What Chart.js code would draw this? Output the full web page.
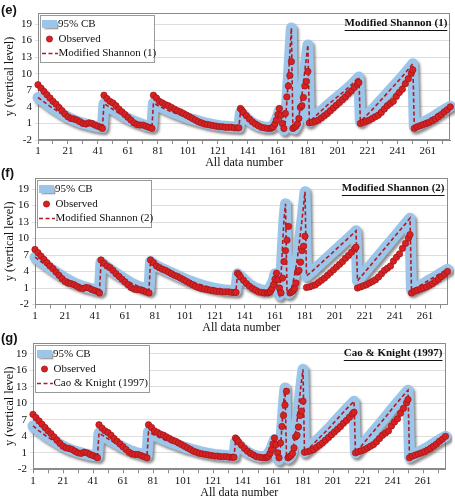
<!DOCTYPE html>
<html><head><meta charset="utf-8">
<script src="https://cdn.jsdelivr.net/npm/chart.js@4.4.1/dist/chart.umd.min.js"></script>
<style>
html,body{margin:0;padding:0;background:#fff;overflow:hidden;}
#wrap{position:relative;width:455px;height:500px;}
.pane{position:absolute;left:0;width:455px;height:172px;}
</style></head><body>
<div id="wrap">
<div class="pane" style="top:0px"><canvas id="cE"></canvas></div>
<div class="pane" style="top:165px"><canvas id="cF"></canvas></div>
<div class="pane" style="top:330px"><canvas id="cG"></canvas></div>
</div>
<script>
// ---------- DATA ----------
const xTickValues = [1,11,21,31,41,51,61,71,81,91,101,111,121,131,141,151,161,171,181,191,201,211,221,231,241,251,261,271];
const xTickLabels = [1,21,41,61,81,101,121,141,161,181,201,221,241,261];
const yTickValues = [-2,1,4,7,10,13,16,19];
const panelLabels = ['(e)','(f)','(g)'];
const modelNames = ['Modified Shannon (1)','Modified Shannon (2)','Cao & Knight (1997)'];
const seriesNames = ['95% CB','Observed'];

// Observed (all data number, value)
const obsX = [
  1,3,5,7,9,11,13,15,17,19,21,23,25,27,29,31,33,35,37,39,41,43,44,
  45,47,49,51,53,55,57,59,61,63,65,67,69,71,73,75,77,
  78,80,82,84,86,88,90,92,94,96,98,100,102,104,106,108,110,112,114,116,118,120,122,124,126,128,130,132,134,135,
  136,137,138,140,142,144,146,148,150,152,154,156,157,158,159,160,161,162,163,164,165,166,167,168,169,170,171,172,173,174,175,176,177,178,179,180,181,182,
  184,186,188,190,192,194,196,198,200,202,204,206,208,210,212,214,215,
  216,218,220,222,224,226,228,230,232,234,236,238,240,242,244,246,248,250,251,
  252,254,256,258,260,262,264,266,268,270,272,274,276
];
const obsY = [
  8.0,7.4,6.8,6.2,5.6,5.0,4.5,3.9,3.3,2.7,2.2,1.9,1.8,1.6,1.3,1.0,0.9,1.1,1.0,0.7,0.5,0.3,0.1,
  6.1,5.5,5.0,4.7,4.2,3.6,3.1,2.6,2.1,1.6,1.1,0.8,0.7,0.7,0.5,0.3,0.1,
  6.1,5.6,5.0,4.7,4.4,4.2,3.9,3.6,3.3,3.1,2.8,2.5,2.2,1.9,1.6,1.3,1.1,0.9,0.8,0.7,0.6,0.5,0.4,0.4,0.3,0.3,0.3,0.2,0.2,0.2,
  3.7,3.4,3.0,2.4,1.8,1.3,0.9,0.6,0.3,0.2,0.1,0.1,0.2,0.4,0.9,1.6,2.6,3.7,2.5,1.0,0.1,2.8,5.8,7.8,9.7,12.2,0.1,0.3,0.5,0.9,1.9,3.9,4.2,5.7,7.8,8.6,10.4,1.1,
  1.2,1.4,1.6,2.0,2.4,2.8,3.3,3.8,4.3,4.8,5.3,5.8,6.4,6.9,7.5,8.1,8.4,
  1.0,1.2,1.4,1.6,1.9,2.2,2.5,3.0,3.6,4.2,4.6,5.0,5.9,6.6,7.2,8.2,9.1,10.1,10.7,
  0.1,0.4,0.6,0.8,1.0,1.2,1.5,1.8,2.2,2.6,3.1,3.5,4.0
];

// Model curves (centre of the 95% CB band) at these data numbers
const modelX = [
  1,5,9,13,17,21,25,29,33,37,41,44,
  45,49,53,57,61,65,69,73,77,
  78,82,86,90,94,98,102,106,110,114,118,122,126,130,135,
  136,140,144,148,152,156,158,160,161,162,163,164,165,166,167,168,169,170,171,172,173,174,175,176,177,178,179,180,181,
  182,186,190,194,198,202,206,210,214,215,
  216,220,224,228,232,236,240,244,248,251,
  252,256,260,264,268,272,276
];
const modelE = [
  5.7,4.9,4.1,3.4,2.7,2.1,1.6,1.2,0.9,0.6,0.4,0.3,
  4.6,3.9,3.2,2.5,1.9,1.4,1.0,0.6,0.4,
  4.7,4.1,3.6,3.1,2.7,2.3,1.9,1.6,1.3,1.0,0.8,0.6,0.5,0.4,0.3,
  3.0,1.9,1.1,0.6,0.3,0.3,0.7,1.7,2.5,3.3,2.0,0.3,-0.2,1.5,5.0,9.3,13.8,18.3,0.1,0.0,0.4,1.0,2.2,4.0,6.1,8.3,10.6,12.9,15.2,
  1.3,2.3,3.3,4.3,5.2,6.1,7.0,8.0,9.1,9.4,
  1.4,2.4,3.5,4.7,5.9,7.1,8.3,9.5,10.8,11.8,
  0.4,0.9,1.5,2.1,2.8,3.5,4.1
];
const modelF = [
  6.6,5.8,5.0,4.2,3.5,2.8,2.2,1.7,1.3,1.0,0.7,0.5,
  5.7,4.8,4.0,3.3,2.6,1.9,1.4,1.0,0.6,
  5.8,5.0,4.5,4.0,3.5,3.0,2.5,2.1,1.7,1.4,1.1,0.9,0.7,0.6,0.5,
  3.6,2.6,1.6,1.0,0.6,0.6,1.2,2.4,3.6,2.0,0.3,-0.3,3.0,8.5,13.5,16.3,0.5,0.0,0.3,1.0,2.0,3.3,4.8,6.6,8.7,11.0,13.4,15.9,18.5,
  3.2,4.1,5.1,6.1,7.1,8.1,9.1,10.1,11.1,11.4,
  2.3,3.6,4.9,6.2,7.5,8.8,10.1,11.4,12.7,13.7,
  0.6,1.2,1.8,2.5,3.1,3.8,4.4
];
const modelG = [
  5.9,5.0,4.2,3.5,2.8,2.2,1.7,1.3,1.0,0.7,0.5,0.4,
  4.6,3.9,3.2,2.6,2.0,1.5,1.1,0.8,0.5,
  4.8,4.2,3.7,3.2,2.8,2.4,2.0,1.7,1.4,1.1,0.9,0.7,0.6,0.5,0.4,
  3.0,1.9,1.1,0.6,0.3,0.4,0.9,1.9,2.7,3.4,1.6,0.0,-0.3,2.0,6.0,9.8,12.8,0.3,0.0,0.2,0.6,1.4,2.8,4.6,6.8,9.2,11.7,14.0,16.2,
  1.1,2.1,3.2,4.3,5.4,6.6,7.8,9.0,10.1,10.4,
  1.0,2.3,3.6,4.9,6.2,7.5,8.9,10.2,11.5,12.4,
  0.2,0.8,1.4,2.0,2.7,3.4,4.0
];
const models = [modelE, modelF, modelG];

// ---------- STYLE / LAYOUT ----------
const BAND = 'rgb(155,198,234)';
const RED = 'rgb(214,34,34)';
const RED_EDGE = 'rgb(160,20,24)';
const DASH = 'rgb(178,26,36)';
const SERIF = '"Liberation Serif", "Times New Roman", serif';
const H = 172;
const geom = [
  {id:'cE', left:38, right:450.5, bottom:140, labelY:10},
  {id:'cF', left:35, right:447.5, bottom:139.5, labelY:8},
  {id:'cG', left:33, right:445.5, bottom:139.3, labelY:8}
];

const shadowPlugin = {
  id:'bandShadow',
  beforeDatasetDraw(chart, args){
    if(args.index===0){
      const c = chart.ctx; c.save();
      c.shadowColor='rgba(70,70,70,0.6)'; c.shadowOffsetX=2; c.shadowOffsetY=2.5; c.shadowBlur=2.5;
    }
  },
  afterDatasetDraw(chart, args){ if(args.index===0) chart.ctx.restore(); }
};
const framePlugin = {
  id:'frame',
  beforeDatasetsDraw(chart){
    const a = chart.chartArea, c = chart.ctx;
    c.save(); c.strokeStyle='#8a8a8a'; c.lineWidth=1;
    c.strokeRect(Math.round(a.left)+0.5, Math.round(a.top)+0.5, Math.round(a.right-a.left)-1, Math.round(a.bottom-a.top)-1);
    c.restore();
  }
};
const decorPlugin = {
  id:'decor',
  afterDraw(chart, args, opts){
    const a = chart.chartArea, c = chart.ctx;
    c.save();
    // panel letter
    c.fillStyle='#111'; c.font='bold 13px "Liberation Sans", Arial, sans-serif';
    c.textAlign='left'; c.textBaseline='middle';
    c.fillText(opts.label, 1, opts.labelY);
    // legend box
    const bx = a.left+1.5, by = a.top+2, bw = 114, bh = 47;
    c.fillStyle='#fff'; c.fillRect(bx,by,bw,bh);
    c.strokeStyle='#9a9a9a'; c.lineWidth=1; c.strokeRect(Math.round(bx)+0.5, Math.round(by)+0.5, bw, bh);
    const r1 = by+9, r2 = by+24, r3 = by+38.5;
    c.save();
    c.shadowColor='rgba(70,70,70,0.5)'; c.shadowOffsetX=1.5; c.shadowOffsetY=1.5; c.shadowBlur=1.5;
    c.fillStyle=BAND; c.fillRect(bx+2.5, r1-4, 15, 8);
    c.restore();
    c.beginPath(); c.arc(bx+10, r2, 3.1, 0, Math.PI*2); c.fillStyle=RED; c.fill();
    c.strokeStyle=RED_EDGE; c.lineWidth=0.7; c.stroke();
    c.beginPath(); c.setLineDash([4,2.5]); c.strokeStyle=DASH; c.lineWidth=1.6;
    c.moveTo(bx+2.5, r3); c.lineTo(bx+18.5, r3); c.stroke(); c.setLineDash([]);
    c.fillStyle='#111'; c.font='11px '+SERIF; c.textBaseline='middle';
    c.fillText(seriesNames[0], bx+18.5, r1);
    c.fillText(seriesNames[1], bx+19, r2);
    c.fillText(opts.model, bx+19, r3);
    // model title, top right, bold underlined
    c.font='bold 11px '+SERIF; c.textAlign='right';
    const tx = a.right-3, ty = a.top+10.5;
    c.fillText(opts.model, tx, ty);
    const w = c.measureText(opts.model).width;
    c.beginPath(); c.strokeStyle='#111'; c.lineWidth=1;
    c.moveTo(tx-w, Math.round(ty+6)+0.5); c.lineTo(tx, Math.round(ty+6)+0.5); c.stroke();
    c.restore();
  }
};

function makeChart(i){
  const g = geom[i];
  const model = models[i];
  const modelPts = modelX.map((x,k)=>({x:x, y:model[k]}));
  const obsPts = obsX.map((x,k)=>({x:x, y:obsY[k]}));
  const padBottom = 2.4;
  new Chart(document.getElementById(g.id), {
    type:'line',
    data:{ datasets:[
      {label:seriesNames[0], data:modelPts, borderColor:BAND, borderWidth:11, pointRadius:0,
       borderCapStyle:'round', borderJoinStyle:'round', tension:0, fill:false, order:3, clip:7},
      {label:modelNames[i], data:modelPts, borderColor:DASH, borderWidth:1.6, borderDash:[4,2.5],
       pointRadius:0, tension:0, fill:false, order:2, clip:4},
      {label:seriesNames[1], data:obsPts, showLine:false, pointRadius:3.2, pointBackgroundColor:RED,
       pointBorderColor:RED_EDGE, pointBorderWidth:0.7, order:1, clip:5}
    ]},
    options:{
      responsive:true, maintainAspectRatio:false, animation:false, devicePixelRatio:1,
      layout:{padding:{left:0, right:455-g.right, top:13, bottom:padBottom}},
      plugins:{legend:{display:false}, tooltip:{enabled:false},
        decor:{label:panelLabels[i], labelY:g.labelY, model:modelNames[i]}},
      scales:{
        x:{type:'linear', min:1, max:276,
          afterBuildTicks(s){ s.ticks = xTickValues.map(v=>({value:v})); },
          afterFit(s){ s.height = (H-padBottom) - g.bottom; },
          grid:{drawOnChartArea:false, drawTicks:true, tickLength:4, color:'#8a8a8a'},
          border:{display:true, color:'#8a8a8a'},
          ticks:{autoSkip:false, maxRotation:0, padding:1, color:'#111',
            font:{family:SERIF, size:11},
            callback:(v)=> xTickLabels.includes(v) ? String(v) : ''},
          title:{display:true, text:'All data number', color:'#111', font:{family:SERIF, size:12},
            padding:{top:0, bottom:0}}
        },
        y:{type:'linear', min:-2, max:21,
          afterBuildTicks(s){ s.ticks = yTickValues.map(v=>({value:v})); },
          afterFit(s){ s.width = g.left; },
          grid:{drawOnChartArea:true, drawTicks:true, tickLength:3, color:'#dedede'},
          border:{display:true, color:'#8a8a8a'},
          ticks:{padding:3, color:'#111', font:{family:SERIF, size:11}},
          title:{display:true, text:'y (vertical level)', color:'#111', font:{family:SERIF, size:12},
            padding:{top:3, bottom:0}}
        }
      }
    },
    plugins:[shadowPlugin, framePlugin, decorPlugin]
  });
}
[0,1,2].forEach(makeChart);
</script>
</body></html>
